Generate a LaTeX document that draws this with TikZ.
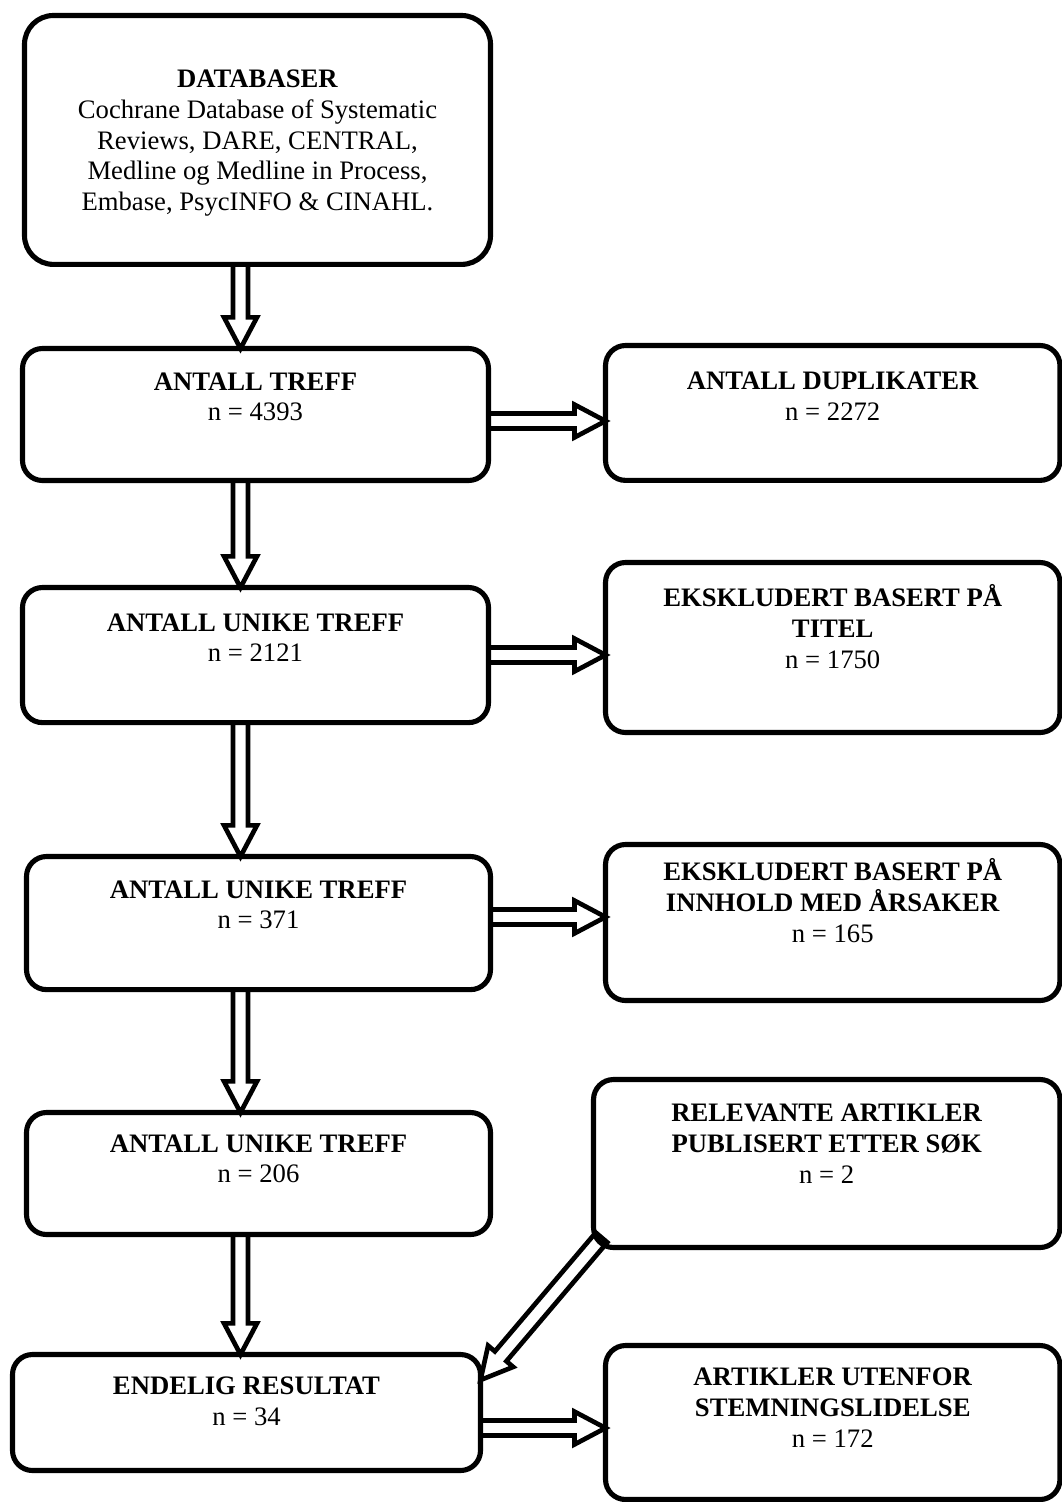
\documentclass[tikz,border=0pt]{standalone}
\usepackage{fontspec}
\setmainfont{Liberation Serif}
\usetikzlibrary{calc}

\tikzset{
  box/.style={draw, line width=2.3pt, rounded corners=9pt, align=center,
    inner sep=0pt, outer sep=0pt, anchor=north,
    font=\fontsize{12}{13.8}\selectfont},
  fat/.style={draw, line width=2.1pt, line join=miter}
}

% hollow block arrow from #1 to #2
\newcommand{\fatarrow}[2]{%
  \coordinate (hb) at ($(#2)!14pt!(#1)$);
  \draw[fat] ($(#1)!3.4pt!90:(#2)$) -- ($(hb)!3.4pt!90:(#2)$) -- ($(hb)!7.4pt!90:(#2)$) -- (#2)
    -- ($(hb)!7.4pt!-90:(#2)$) -- ($(hb)!3.4pt!-90:(#2)$) -- ($(#1)!3.4pt!-90:(#2)$) -- cycle;}

\begin{document}
\begin{tikzpicture}[x=0.45pt, y=-0.45pt]
    \useasboundingbox (0,0) rectangle (1062,1502);

    % Left column
    \node[box, rounded corners=13pt, minimum width=209.7pt, text height=87.8pt, text depth=24.2pt] (db) at (257.5,15.5)
        {\textbf{DATABASER}\\Cochrane Database of Systematic\\Reviews, DARE, CENTRAL,\\Medline og Medline in Process,\\Embase, PsycINFO \& CINAHL.};
    \node[box, minimum width=209.7pt, text height=32.5pt, text depth=26.9pt] (hits) at (255.5,348.5)
        {\textbf{ANTALL TREFF}\\n = 4393};
    \node[box, minimum width=209.7pt, text height=33.4pt, text depth=27.4pt] (uniq1) at (255.5,587.5)
        {\textbf{ANTALL UNIKE TREFF}\\n = 2121};
    \node[box, minimum width=208.8pt, text height=32.5pt, text depth=27.4pt] (uniq2) at (258.5,856.5)
        {\textbf{ANTALL UNIKE TREFF}\\n = 371};
    \node[box, minimum width=208.8pt, text height=31.6pt, text depth=23.3pt] (uniq3) at (258.5,1112.5)
        {\textbf{ANTALL UNIKE TREFF}\\n = 206};
    \node[box, minimum width=210.6pt, text height=32.0pt, text depth=20.2pt] (final) at (246.5,1354.5)
        {\textbf{ENDELIG RESULTAT}\\n = 34};

    % Right column
    \node[box, minimum width=204.5pt, text height=33.8pt, text depth=26.9pt] (dup) at (832.75,345.5)
        {\textbf{ANTALL DUPLIKATER}\\n = 2272};
    \node[box, minimum width=204.5pt, text height=47.5pt, text depth=29.0pt] (excl1) at (832.75,562.5)
        {\textbf{EKSKLUDERT BASERT PÅ}\\\textbf{TITEL}\\n = 1750};
    \node[box, minimum width=204.5pt, text height=43.9pt, text depth=26.3pt] (excl2) at (832.75,844.5)
        {\textbf{EKSKLUDERT BASERT PÅ}\\\textbf{INNHOLD MED ÅRSAKER}\\n = 165};
    \node[box, minimum width=209.9pt, text height=46.6pt, text depth=29.0pt] (rel) at (826.75,1079.5)
        {\textbf{RELEVANTE ARTIKLER}\\\textbf{PUBLISERT ETTER SØK}\\n = 2};
    \node[box, minimum width=204.5pt, text height=45.7pt, text depth=23.6pt] (out) at (832.75,1345.5)
        {\textbf{ARTIKLER UTENFOR}\\\textbf{STEMNINGSLIDELSE}\\n = 172};

    % Down arrows
    \fatarrow{db.south -| 240.5,0}{hits.north -| 240.5,0}
    \fatarrow{hits.south -| 240.5,0}{uniq1.north -| 240.5,0}
    \fatarrow{uniq1.south -| 240.5,0}{uniq2.north -| 240.5,0}
    \fatarrow{uniq2.south -| 240.5,0}{uniq3.north -| 240.5,0}
    \fatarrow{uniq3.south -| 240.5,0}{final.north -| 240.5,0}

    % Side arrows
    \fatarrow{hits.east |- 0,421}{dup.west |- 0,421}
    \fatarrow{uniq1.east |- 0,655}{excl1.west |- 0,655}
    \fatarrow{uniq2.east |- 0,917}{excl2.west |- 0,917}
    \fatarrow{final.east |- 0,1428}{out.west |- 0,1428}

    % Late articles
    \fatarrow{$(rel.south west)+(8,-10)$}{final.east |- 0,1380}

\end{tikzpicture}
\end{document}
